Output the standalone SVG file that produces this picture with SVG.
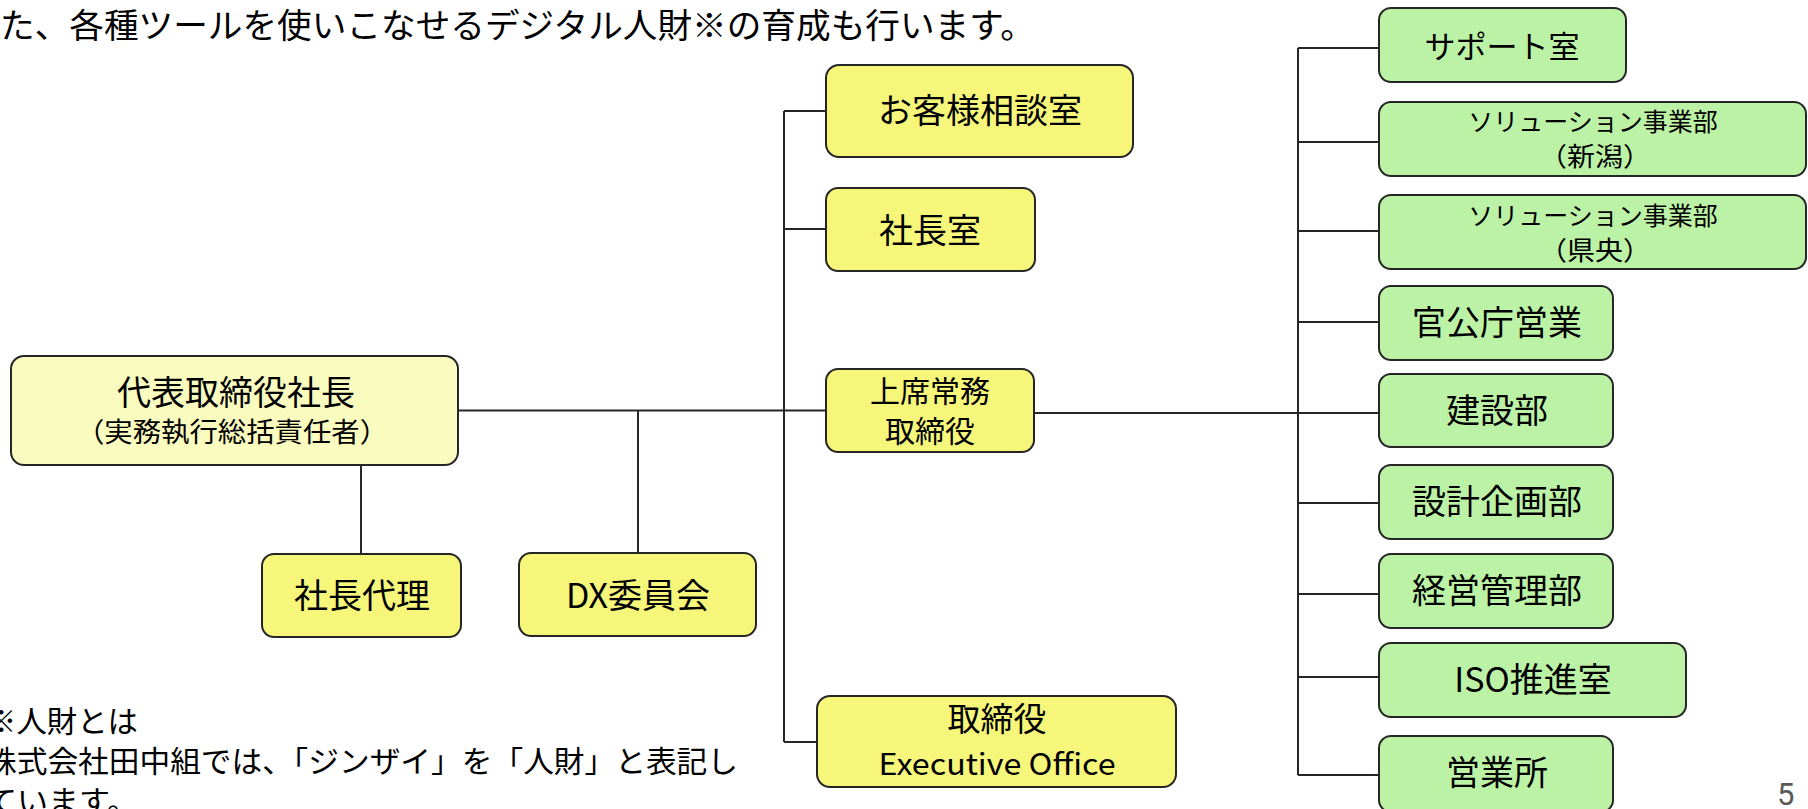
<svg xmlns="http://www.w3.org/2000/svg" width="1808" height="809" viewBox="0 0 1808 809">
<style>
text{font-family:"Noto Sans CJK JP","Noto Sans",sans-serif;fill:#000;}
.c{text-anchor:middle;}
.box{stroke:#262626;stroke-width:2;}
.y{fill:#F6F77A;}
.py{fill:#FAFBBE;}
.g{fill:#BBF2A6;}
.conn{fill:none;stroke:#262626;stroke-width:2;}
</style>
<rect width="1808" height="809" fill="#fff"/>
<text x="0" y="38" font-size="34" textLength="1035" lengthAdjust="spacingAndGlyphs">た、各種ツールを使いこなせるデジタル人財※の育成も行います。</text>
<text x="-14" y="732" font-size="30" textLength="152" lengthAdjust="spacingAndGlyphs">※人財とは</text>
<text x="-14" y="772" font-size="30" textLength="752" lengthAdjust="spacingAndGlyphs">株式会社田中組では、「ジンザイ」を「人財」と表記し</text>
<text x="-14" y="812" font-size="30" textLength="152" lengthAdjust="spacingAndGlyphs">ています。</text>
<text x="1777" y="805" font-size="31" style="font-family:Roboto,'Liberation Sans',sans-serif;fill:#595959">5</text>
<g id="connectors" class="conn">
<path d="M458 410.5H826"/>
<path d="M784 111V742"/>
<path d="M784 111H826M784 229H826M784 742H817"/>
<path d="M361 465V554"/>
<path d="M638 410.5V553"/>
<path d="M1034 413H1379"/>
<path d="M1298 48V775"/>
<path d="M1298 48H1379M1298 142H1379M1298 231H1379M1298 322H1379M1298 503H1379M1298 594H1379M1298 677H1379M1298 775H1379"/>
</g>
<g id="n_president"><rect class="box py" x="11" y="356" width="447" height="109" rx="13"/>
<text class="c" x="236" y="405" font-size="34">代表取締役社長</text>
<text class="c" x="232" y="442" font-size="27" textLength="312" lengthAdjust="spacingAndGlyphs">（実務執行総括責任者）</text></g>
<g id="n_deputy"><rect class="box y" x="262" y="554" width="199" height="83" rx="12"/>
<text class="c" x="362" y="608" font-size="34">社長代理</text></g>
<g id="n_dx"><rect class="box y" x="519" y="553" width="237" height="83" rx="12"/>
<text class="c" x="638" y="608" font-size="34">DX委員会</text></g>
<g id="n_customer"><rect class="box y" x="826" y="65" width="307" height="92" rx="13"/>
<text class="c" x="980" y="123" font-size="34">お客様相談室</text></g>
<g id="n_presoffice"><rect class="box y" x="826" y="188" width="209" height="83" rx="12"/>
<text class="c" x="930" y="243" font-size="34">社長室</text></g>
<g id="n_senior"><rect class="box y" x="826" y="369" width="208" height="83" rx="12"/>
<text class="c" x="930" y="402" font-size="30">上席常務</text>
<text class="c" x="930" y="442" font-size="30">取締役</text></g>
<g id="n_exec"><rect class="box y" x="817" y="696" width="359" height="91" rx="13"/>
<text class="c" x="997" y="731" font-size="33">取締役</text>
<text class="c" x="997" y="775" font-size="30" textLength="237" lengthAdjust="spacingAndGlyphs">Executive Office</text></g>
<g id="n_support"><rect class="box g" x="1379" y="8" width="247" height="74" rx="12"/>
<text class="c" x="1502" y="58" font-size="31">サポート室</text></g>
<g id="n_sol_niigata"><rect class="box g" x="1379" y="102" width="427" height="74" rx="12"/>
<text class="c" x="1593" y="131" font-size="25">ソリューション事業部</text>
<text class="c" x="1595" y="166" font-size="26" textLength="112" lengthAdjust="spacingAndGlyphs">（新潟）</text></g>
<g id="n_sol_kenou"><rect class="box g" x="1379" y="195" width="427" height="74" rx="12"/>
<text class="c" x="1593" y="225" font-size="25">ソリューション事業部</text>
<text class="c" x="1595" y="260" font-size="26" textLength="112" lengthAdjust="spacingAndGlyphs">（県央）</text></g>
<g id="n_gov"><rect class="box g" x="1379" y="286" width="234" height="74" rx="12"/>
<text class="c" x="1497" y="335" font-size="34">官公庁営業</text></g>
<g id="n_construct"><rect class="box g" x="1379" y="374" width="234" height="73" rx="12"/>
<text class="c" x="1497" y="423" font-size="34">建設部</text></g>
<g id="n_design"><rect class="box g" x="1379" y="465" width="234" height="74" rx="12"/>
<text class="c" x="1497" y="514" font-size="34">設計企画部</text></g>
<g id="n_mgmt"><rect class="box g" x="1379" y="554" width="234" height="74" rx="12"/>
<text class="c" x="1497" y="603" font-size="34">経営管理部</text></g>
<g id="n_iso"><rect class="box g" x="1379" y="643" width="307" height="74" rx="12"/>
<text class="c" x="1533" y="692" font-size="34">ISO推進室</text></g>
<g id="n_sales"><rect class="box g" x="1379" y="736" width="234" height="76" rx="12"/>
<text class="c" x="1497" y="785" font-size="34">営業所</text></g>
</svg>
